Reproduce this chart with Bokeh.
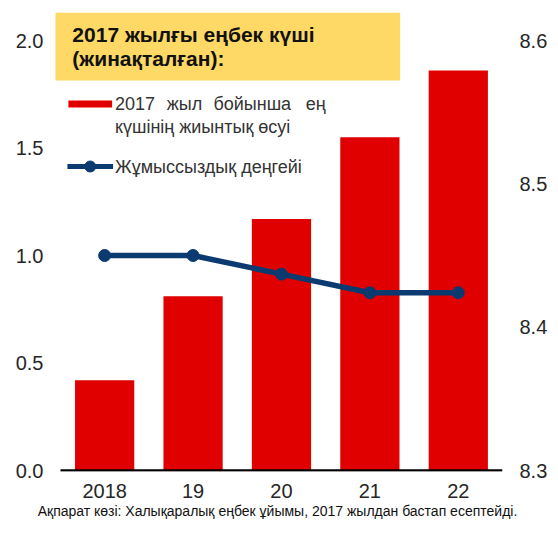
from bokeh.plotting import figure
from bokeh.models import Range1d, LinearAxis, FixedTicker, PrintfTickFormatter
from bokeh.core.properties import value
from bokeh.embed import file_html
from bokeh.resources import INLINE

# ---- data ----
categories = ["2018", "19", "20", "21", "22"]
labour_growth = [0.42, 0.81, 1.17, 1.55, 1.86]          # left axis, bars
unemployment = [8.45, 8.45, 8.437, 8.424, 8.424]        # right axis, line
left_ticks = [0.0, 0.5, 1.0, 1.5, 2.0]
right_ticks = [8.3, 8.4, 8.5, 8.6]
title_lines = ["2017 жылғы еңбек күші", "(жинақталған):"]
legend_bar_words = ["2017", "жыл", "бойынша", "ең"]
legend_bar_line2 = "күшінің жиынтық өсуі"
legend_line_text = "Жұмыссыздық деңгейі"
source_text = "Ақпарат көзі: Халықаралық еңбек ұйымы, 2017 жылдан бастап есептейді."

RED = "#E00000"
NAVY = "#0B3A70"
YELLOW = "#FFD966"
FONT = "Liberation Sans"

# figure-pixel -> data helpers (for decorations only)
X0, XS = 104.5, 89.0
Y0, YS = 470.0, 215.0
def px_x(px):
    return (px - X0) / XS
def px_y(py):
    return (Y0 - py) / YS
RS = 0.3 / 430.0
def px_r(py):
    return 8.3 + (Y0 - py) * RS

FL, FR, FT, FB = 52, 505, 12, 471   # frame edges in figure pixels
W, H = 550, 522

xs = list(range(len(categories)))

p = figure(width=W, height=H, output_backend="svg", toolbar_location=None,
           x_range=Range1d(px_x(FL), px_x(FR)),
           y_range=Range1d(px_y(FB), px_y(FT)),
           min_border_left=FL, min_border_right=W - FR, min_border_top=FT,
           min_border_bottom=H - FB)
p.extra_y_ranges = {"right": Range1d(px_r(FB), px_r(FT))}
p.outline_line_color = None
p.xgrid.visible = False
p.ygrid.visible = False
p.background_fill_color = "white"
p.border_fill_color = "white"

def style_axis(ax, standoff):
    ax.axis_line_color = None
    ax.major_tick_line_color = None
    ax.minor_tick_line_color = None
    ax.major_tick_out = 0
    ax.major_tick_in = 0
    ax.minor_tick_out = 0
    ax.major_label_standoff = standoff
    ax.major_label_text_font = FONT
    ax.major_label_text_font_size = "20px"
    ax.major_label_text_color = "#262626"

# left axis
p.yaxis.ticker = FixedTicker(ticks=left_ticks)
p.yaxis.formatter = PrintfTickFormatter(format="%.1f")
style_axis(p.yaxis[0], 9)

# right axis
raxis = LinearAxis(y_range_name="right", ticker=FixedTicker(ticks=right_ticks),
                   formatter=PrintfTickFormatter(format="%.1f"))
style_axis(raxis, 17)
p.add_layout(raxis, "right")

# x axis (source note as axis label)
p.xaxis.ticker = FixedTicker(ticks=xs)
p.xaxis.major_label_overrides = {i: c for i, c in enumerate(categories)}
style_axis(p.xaxis[0], 12)
p.xaxis.axis_label = source_text
p.xaxis.axis_label_standoff = 2
p.xaxis.axis_label_text_font = FONT
p.xaxis.axis_label_text_font_size = "14px"
p.xaxis.axis_label_text_font_style = "normal"
p.xaxis.axis_label_text_color = "#111111"

# title box
p.quad(left=[px_x(55)], right=[px_x(402)], top=[px_y(12)], bottom=[px_y(80)],
       fill_color=YELLOW, line_color=None)
p.text(x=[px_x(72)] * 2, y=[px_y(34), px_y(58)], text=title_lines,
       text_font=value(FONT), text_font_style="bold", text_font_size="21px",
       text_color="#111111", text_baseline="middle", text_align="left")

# bars
p.vbar(x=xs, top=labour_growth, width=0.67, fill_color=RED, line_color=None)

# baseline
p.segment(x0=[-0.5], x1=[4.5], y0=[0], y1=[0], line_color="black", line_width=2.5)

# line
p.line(x=xs, y=unemployment, y_range_name="right", line_color=NAVY, line_width=5.5)
p.scatter(x=xs, y=unemployment, y_range_name="right", size=12,
          fill_color=NAVY, line_color=NAVY)

# legend (manual)
p.quad(left=[px_x(68)], right=[px_x(112)], top=[px_y(100)], bottom=[px_y(107)],
       fill_color=RED, line_color=None)
p.text(x=[px_x(v) for v in (115, 167, 214, 307)], y=[px_y(103)] * 4, text=legend_bar_words,
       text_font=value(FONT), text_font_size="18px", text_color="#333333",
       text_baseline="middle", text_align="left")
p.text(x=[px_x(115)], y=[px_y(126)], text=[legend_bar_line2],
       text_font=value(FONT), text_font_size="18px", text_color="#333333",
       text_baseline="middle", text_align="left")
p.segment(x0=[px_x(67)], x1=[px_x(113)], y0=[px_y(166)], y1=[px_y(166)],
          line_color=NAVY, line_width=5)
p.scatter(x=[px_x(90)], y=[px_y(166)], size=11, fill_color=NAVY, line_color=NAVY)
p.text(x=[px_x(115)], y=[px_y(166)], text=[legend_line_text],
       text_font=value(FONT), text_font_size="18px", text_color="#333333",
       text_baseline="middle", text_align="left")

open("out.html", "w").write(file_html(p, INLINE))
